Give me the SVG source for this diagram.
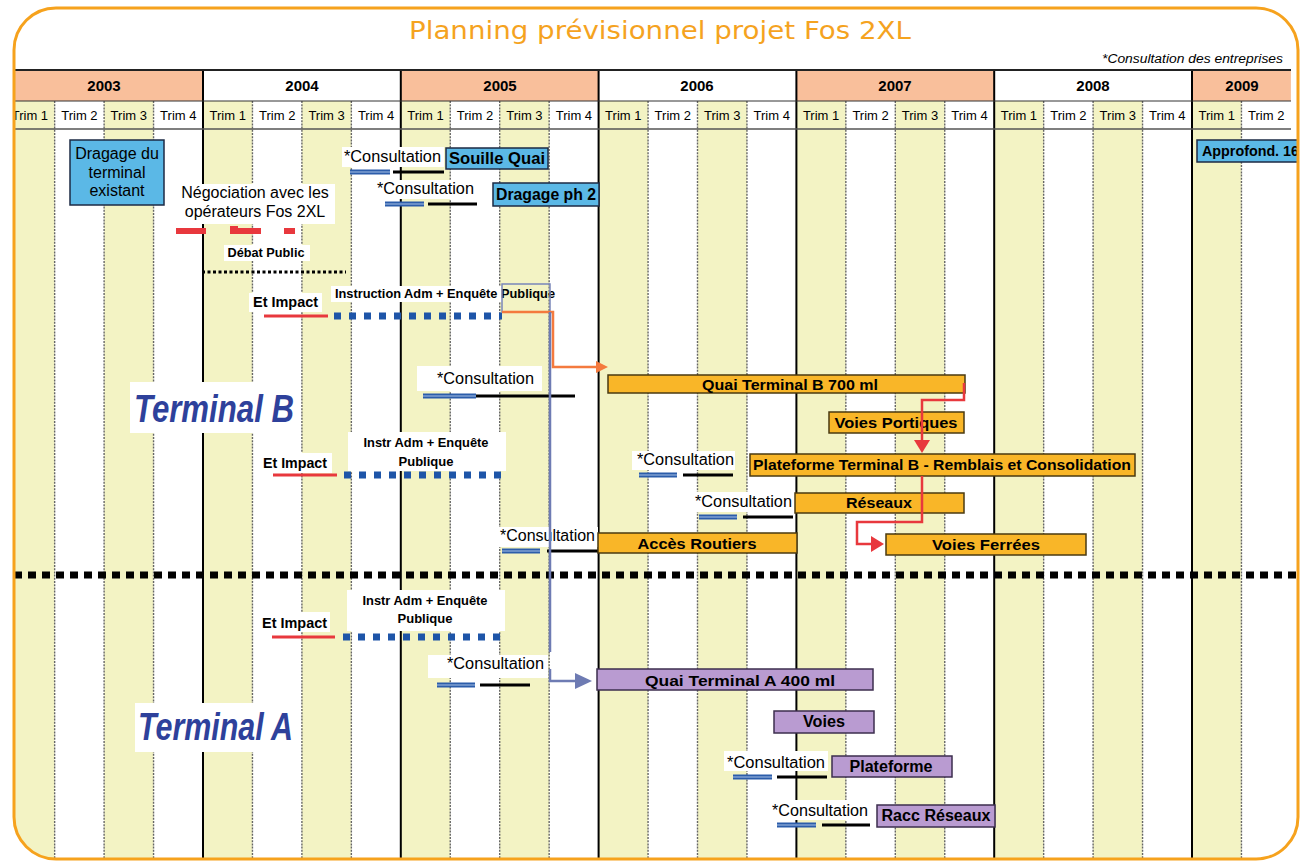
<svg xmlns="http://www.w3.org/2000/svg" width="1303" height="861" viewBox="0 0 1303 861">
<defs>
<style>
.f{font-family:"Liberation Sans",Arial,Helvetica,sans-serif;fill:#000}
.yr{font-size:15px;font-weight:bold;text-anchor:middle}
.tr{font-size:13px;text-anchor:middle}
.cons{font-size:16px}
.bt{font-weight:bold}
.mid{text-anchor:middle}
.blue{fill:#5BB8E6;stroke:#1C2A44;stroke-width:1.5}
.gold{fill:#F9B628;stroke:#4A3A10;stroke-width:1.5}
.purple{fill:#B99BD1;stroke:#3C2E4E;stroke-width:1.5}
.bg{fill:#fff}
.yel{fill:#F3F3C4}
.sal{fill:#F9BF9B}
.qline{stroke:#666;stroke-width:1.4;stroke-dasharray:2 1.2}
.yline{stroke:#000;stroke-width:2}
.cb{stroke:#2C5DAA;stroke-width:5}
.cbm{stroke:#A8C2E6;stroke-width:1}
.ck{stroke:#000;stroke-width:3}
.imp{stroke:#E8383D;stroke-width:3}
.enq{stroke:#1E55A8;stroke-width:7;stroke-dasharray:7 8}
.term{font-size:38px;font-weight:bold;font-style:italic;fill:#2E419B}
.red{stroke:#E8383D;stroke-width:2.5;fill:none}
.org{stroke:#F47A3E;stroke-width:2.5;fill:none}
.slate{stroke:#6E7BB3;stroke-width:2.5;fill:none}
</style>
<clipPath id="frameClip"><rect x="14" y="8" width="1284" height="851" rx="42"/></clipPath>
<marker id="arRed" markerUnits="userSpaceOnUse" markerWidth="14" markerHeight="16" refX="7" refY="8" orient="auto"><path d="M0,0 L13,8 L0,16 Z" fill="#E8383D"/></marker>
<marker id="arOrg" markerUnits="userSpaceOnUse" markerWidth="13" markerHeight="12" refX="6" refY="6" orient="auto"><path d="M0,0 L12,6 L0,12 Z" fill="#F47A3E"/></marker>
<marker id="arSlate" markerUnits="userSpaceOnUse" markerWidth="18" markerHeight="16" refX="11" refY="8" orient="auto"><path d="M0,0 L17,8 L0,16 Z" fill="#6E7BB3"/></marker>
</defs>
<rect width="1303" height="861" fill="#fff"/>

<g id="grid" clip-path="url(#frameClip)">
  <rect class="sal" x="5.2" y="70" width="197.8" height="31"/>
  <rect class="sal" x="400.8" y="70" width="197.8" height="31"/>
  <rect class="sal" x="796.4" y="70" width="197.8" height="31"/>
  <rect class="sal" x="1192" y="70" width="98.9" height="31"/>
  <g class="yel">
    <rect x="5.2" y="101" width="49.45" height="760"/>
    <rect x="104.1" y="101" width="49.45" height="760"/>
    <rect x="203" y="101" width="49.45" height="760"/>
    <rect x="301.9" y="101" width="49.45" height="760"/>
    <rect x="400.8" y="101" width="49.45" height="760"/>
    <rect x="499.7" y="101" width="49.45" height="760"/>
    <rect x="598.6" y="101" width="49.45" height="760"/>
    <rect x="697.5" y="101" width="49.45" height="760"/>
    <rect x="796.4" y="101" width="49.45" height="760"/>
    <rect x="895.3" y="101" width="49.45" height="760"/>
    <rect x="994.2" y="101" width="49.45" height="760"/>
    <rect x="1093.1" y="101" width="49.45" height="760"/>
    <rect x="1192" y="101" width="49.45" height="760"/>
  </g>
  <g class="qline">
    <line x1="54.65" y1="101" x2="54.65" y2="861"/>
    <line x1="104.1" y1="101" x2="104.1" y2="861"/>
    <line x1="153.55" y1="101" x2="153.55" y2="861"/>
    <line x1="252.45" y1="101" x2="252.45" y2="861"/>
    <line x1="301.9" y1="101" x2="301.9" y2="861"/>
    <line x1="351.35" y1="101" x2="351.35" y2="861"/>
    <line x1="450.25" y1="101" x2="450.25" y2="861"/>
    <line x1="499.7" y1="101" x2="499.7" y2="861"/>
    <line x1="549.15" y1="101" x2="549.15" y2="861"/>
    <line x1="648.05" y1="101" x2="648.05" y2="861"/>
    <line x1="697.5" y1="101" x2="697.5" y2="861"/>
    <line x1="746.95" y1="101" x2="746.95" y2="861"/>
    <line x1="845.85" y1="101" x2="845.85" y2="861"/>
    <line x1="895.3" y1="101" x2="895.3" y2="861"/>
    <line x1="944.75" y1="101" x2="944.75" y2="861"/>
    <line x1="1043.65" y1="101" x2="1043.65" y2="861"/>
    <line x1="1093.1" y1="101" x2="1093.1" y2="861"/>
    <line x1="1142.55" y1="101" x2="1142.55" y2="861"/>
    <line x1="1241.45" y1="101" x2="1241.45" y2="861"/>
  </g>
  <g class="yline">
    <line x1="203" y1="70" x2="203" y2="861"/>
    <line x1="400.8" y1="70" x2="400.8" y2="861"/>
    <line x1="598.6" y1="70" x2="598.6" y2="861"/>
    <line x1="796.4" y1="70" x2="796.4" y2="861"/>
    <line x1="994.2" y1="70" x2="994.2" y2="861"/>
    <line x1="1192" y1="70" x2="1192" y2="861"/>
  </g>
  <line x1="14" y1="70" x2="1291" y2="70" stroke="#222" stroke-width="2"/>
  <line x1="14" y1="101" x2="1291" y2="101" stroke="#333" stroke-width="1"/>
  <line x1="14" y1="129" x2="1291" y2="129" stroke="#555" stroke-width="1.5"/>
  <g class="f yr">
    <text x="104" y="91">2003</text>
    <text x="302" y="91">2004</text>
    <text x="500" y="91">2005</text>
    <text x="697" y="91">2006</text>
    <text x="895" y="91">2007</text>
    <text x="1093" y="91">2008</text>
    <text x="1242" y="91">2009</text>
  </g>
  <g class="f tr">
    <text x="29.9" y="120">Trim 1</text><text x="79.4" y="120">Trim 2</text><text x="128.8" y="120">Trim 3</text><text x="178.3" y="120">Trim 4</text>
    <text x="227.7" y="120">Trim 1</text><text x="277.2" y="120">Trim 2</text><text x="326.6" y="120">Trim 3</text><text x="376.1" y="120">Trim 4</text>
    <text x="425.5" y="120">Trim 1</text><text x="475" y="120">Trim 2</text><text x="524.4" y="120">Trim 3</text><text x="573.9" y="120">Trim 4</text>
    <text x="623.3" y="120">Trim 1</text><text x="672.8" y="120">Trim 2</text><text x="722.2" y="120">Trim 3</text><text x="771.7" y="120">Trim 4</text>
    <text x="821.1" y="120">Trim 1</text><text x="870.6" y="120">Trim 2</text><text x="920" y="120">Trim 3</text><text x="969.5" y="120">Trim 4</text>
    <text x="1018.9" y="120">Trim 1</text><text x="1068.4" y="120">Trim 2</text><text x="1117.8" y="120">Trim 3</text><text x="1167.3" y="120">Trim 4</text>
    <text x="1216.7" y="120">Trim 1</text><text x="1266.2" y="120">Trim 2</text>
  </g>
  <line id="separator" x1="14" y1="575" x2="1298" y2="575" stroke="#000" stroke-width="7" stroke-dasharray="8 6"/>
</g>

<text id="title" x="409" y="39" textLength="502" lengthAdjust="spacingAndGlyphs" font-family="DejaVu Sans, sans-serif" font-size="24" fill="#F5A31F">Planning prévisionnel projet Fos 2XL</text>
<text id="note" class="f" x="1102" y="63" font-size="12.5" font-style="italic" textLength="181" lengthAdjust="spacingAndGlyphs">*Consultation des entreprises</text>

<g id="dragage-existant">
  <rect class="blue" x="70" y="140" width="94" height="65"/>
  <g class="f mid" font-size="16"><text x="117" y="159">Dragage du</text><text x="117" y="178">terminal</text><text x="117" y="196">existant</text></g>
</g>
<g id="negociation">
  <rect class="bg" x="175" y="184" width="160" height="40"/>
  <g class="f mid" font-size="16"><text x="255" y="198">Négociation avec les</text><text x="255" y="217">opérateurs Fos 2XL</text></g>
  <g stroke="#E8383D" stroke-width="6">
    <line x1="176" y1="231" x2="206" y2="231"/>
    <line x1="230" y1="231" x2="261" y2="231"/>
    <line x1="230" y1="229" x2="238" y2="229"/>
    <line x1="284" y1="231" x2="295" y2="231"/>
  </g>
</g>
<g id="debat-public">
  <rect class="bg" x="224" y="245" width="86" height="16"/>
  <text class="f bt mid" x="266" y="257" font-size="13" textLength="77" lengthAdjust="spacingAndGlyphs">Débat Public</text>
  <line x1="202" y1="272" x2="346" y2="272" stroke="#000" stroke-width="3" stroke-dasharray="3 2.5"/>
</g>
<g id="instruction-1">
  <rect class="bg" x="249" y="293" width="73" height="19"/>
  <text class="f bt" x="253" y="307" font-size="15" textLength="65" lengthAdjust="spacingAndGlyphs">Et Impact</text>
  <line class="imp" x1="264" y1="316" x2="328" y2="316"/>
  <rect class="bg" x="331" y="286" width="171" height="16"/>
  <text class="f bt" x="335" y="298" font-size="12" textLength="220" lengthAdjust="spacingAndGlyphs">Instruction Adm + Enquête Publique</text>
  <line class="enq" x1="334" y1="316" x2="502" y2="316"/>
  <rect x="502" y="284" width="48" height="28" fill="none" stroke="#7A86B9" stroke-width="1.5"/>
</g>

<g id="souille-quai">
  <rect class="bg" x="342" y="147" width="102" height="20"/>
  <text class="f cons" x="344" y="162" textLength="97" lengthAdjust="spacingAndGlyphs">*Consultation</text>
  <line class="cb" x1="350" y1="172" x2="390" y2="172"/><line class="cbm" x1="350" y1="172" x2="390" y2="172"/>
  <line class="ck" x1="393" y1="172" x2="444" y2="172"/>
  <rect class="blue" x="446" y="148" width="102" height="21"/>
  <text class="f bt mid" x="497" y="164" font-size="16" textLength="96" lengthAdjust="spacingAndGlyphs">Souille Quai</text>
</g>
<g id="dragage-ph2">
  <rect class="bg" x="375" y="180" width="101" height="19"/>
  <text class="f cons" x="377" y="194" textLength="97" lengthAdjust="spacingAndGlyphs">*Consultation</text>
  <line class="cb" x1="385" y1="204" x2="424" y2="204"/><line class="cbm" x1="385" y1="204" x2="424" y2="204"/>
  <line class="ck" x1="428" y1="204" x2="477" y2="204"/>
  <rect class="blue" x="493" y="183" width="106" height="23"/>
  <text class="f bt mid" x="546" y="200" font-size="16" textLength="100" lengthAdjust="spacingAndGlyphs">Dragage ph 2</text>
</g>
<g id="approfond">
  <g clip-path="url(#frameClip)">
    <rect class="blue" x="1197" y="140" width="120" height="22"/>
    <text class="f bt" x="1202" y="156" font-size="15" textLength="97" lengthAdjust="spacingAndGlyphs">Approfond. 16</text>
  </g>
</g>

<g id="terminal-b-label">
  <rect class="bg" x="130" y="382" width="170" height="51"/>
  <text class="f term" x="134" y="422" textLength="160" lengthAdjust="spacingAndGlyphs">Terminal B</text>
</g>
<g id="quai-b">
  <rect class="bg" x="417" y="366" width="125" height="25"/>
  <text class="f cons" x="437" y="384" textLength="97" lengthAdjust="spacingAndGlyphs">*Consultation</text>
  <line class="cb" x1="423" y1="396" x2="476" y2="396"/><line class="cbm" x1="423" y1="396" x2="476" y2="396"/>
  <line class="ck" x1="476" y1="396" x2="575" y2="396"/>
  <rect class="gold" x="608" y="375" width="357" height="18"/>
  <text class="f bt mid" x="790" y="390" font-size="14" textLength="176" lengthAdjust="spacingAndGlyphs">Quai Terminal B 700 ml</text>
</g>
<g id="voies-portiques">
  <rect class="gold" x="829" y="412" width="135" height="21"/>
  <text class="f bt mid" x="896" y="428" font-size="15" textLength="123" lengthAdjust="spacingAndGlyphs">Voies Portiques</text>
</g>
<g id="instruction-b">
  <rect class="bg" x="259" y="453" width="73" height="20"/>
  <text class="f bt" x="263" y="468" font-size="15" textLength="64" lengthAdjust="spacingAndGlyphs">Et Impact</text>
  <line class="imp" x1="273" y1="475" x2="337" y2="475"/>
  <rect class="bg" x="348" y="432" width="158" height="39"/>
  <text class="f bt mid" x="426" y="447" font-size="13" textLength="125" lengthAdjust="spacingAndGlyphs">Instr Adm + Enquête</text>
  <text class="f bt mid" x="426" y="466" font-size="13" textLength="55" lengthAdjust="spacingAndGlyphs">Publique</text>
  <line class="enq" x1="344" y1="475" x2="506" y2="475"/>
</g>
<g id="plateforme-b">
  <rect class="bg" x="632" y="451" width="103" height="19"/>
  <text class="f cons" x="637" y="465" textLength="97" lengthAdjust="spacingAndGlyphs">*Consultation</text>
  <line class="cb" x1="639" y1="475" x2="677" y2="475"/><line class="cbm" x1="639" y1="475" x2="677" y2="475"/>
  <line class="ck" x1="683" y1="475" x2="733" y2="475"/>
  <rect class="gold" x="750" y="454" width="385" height="22"/>
  <text class="f bt mid" x="942" y="470" font-size="14" textLength="378" lengthAdjust="spacingAndGlyphs">Plateforme Terminal B - Remblais et Consolidation</text>
</g>
<g id="reseaux-b">
  <rect class="bg" x="693" y="492" width="101" height="20"/>
  <text class="f cons" x="695" y="507" textLength="97" lengthAdjust="spacingAndGlyphs">*Consultation</text>
  <line class="cb" x1="699" y1="517" x2="737" y2="517"/><line class="cbm" x1="699" y1="517" x2="737" y2="517"/>
  <line class="ck" x1="743" y1="517" x2="793" y2="517"/>
  <rect class="gold" x="795" y="493" width="169" height="20"/>
  <text class="f bt mid" x="879" y="508" font-size="15" textLength="66" lengthAdjust="spacingAndGlyphs">Réseaux</text>
</g>
<g id="acces-routiers">
  <rect class="bg" x="498" y="527" width="100" height="20"/>
  <text class="f cons" x="500" y="541" textLength="95" lengthAdjust="spacingAndGlyphs">*Consultation</text>
  <line class="cb" x1="502" y1="551" x2="540" y2="551"/><line class="cbm" x1="502" y1="551" x2="540" y2="551"/>
  <line class="ck" x1="547" y1="551" x2="598" y2="551"/>
  <rect class="gold" x="598" y="533" width="199" height="20"/>
  <text class="f bt mid" x="697" y="549" font-size="15" textLength="119" lengthAdjust="spacingAndGlyphs">Accès Routiers</text>
</g>
<g id="voies-ferrees">
  <rect class="gold" x="886" y="534" width="200" height="21"/>
  <text class="f bt mid" x="986" y="550" font-size="15" textLength="108" lengthAdjust="spacingAndGlyphs">Voies Ferrées</text>
</g>

<g id="instruction-a">
  <rect class="bg" x="258" y="612" width="72" height="20"/>
  <text class="f bt" x="262" y="628" font-size="15" textLength="65" lengthAdjust="spacingAndGlyphs">Et Impact</text>
  <line class="imp" x1="272" y1="637" x2="335" y2="637"/>
  <rect class="bg" x="347" y="590" width="158" height="41"/>
  <text class="f bt mid" x="425" y="605" font-size="13" textLength="125" lengthAdjust="spacingAndGlyphs">Instr Adm + Enquête</text>
  <text class="f bt mid" x="425" y="623" font-size="13" textLength="55" lengthAdjust="spacingAndGlyphs">Publique</text>
  <line class="enq" x1="343" y1="637" x2="505" y2="637"/>
</g>
<g id="terminal-a-label">
  <rect class="bg" x="135" y="703" width="162" height="49"/>
  <text class="f term" x="138" y="740" textLength="155" lengthAdjust="spacingAndGlyphs">Terminal A</text>
</g>
<g id="quai-a">
  <rect class="bg" x="428" y="655" width="120" height="23"/>
  <text class="f cons" x="447" y="669" textLength="97" lengthAdjust="spacingAndGlyphs">*Consultation</text>
  <line class="cb" x1="437" y1="685" x2="475" y2="685"/><line class="cbm" x1="437" y1="685" x2="475" y2="685"/>
  <line class="ck" x1="480" y1="685" x2="530" y2="685"/>
  <rect class="purple" x="597" y="669" width="276" height="21"/>
  <text class="f bt mid" x="740" y="686" font-size="15" textLength="190" lengthAdjust="spacingAndGlyphs">Quai Terminal A 400 ml</text>
</g>
<g id="voies-a">
  <rect class="purple" x="774" y="711" width="100" height="22"/>
  <text class="f bt mid" x="824" y="727" font-size="16" textLength="42" lengthAdjust="spacingAndGlyphs">Voies</text>
</g>
<g id="plateforme-a">
  <rect class="bg" x="724" y="751" width="104" height="20"/>
  <text class="f cons" x="727" y="768" textLength="98" lengthAdjust="spacingAndGlyphs">*Consultation</text>
  <line class="cb" x1="733" y1="777" x2="772" y2="777"/><line class="cbm" x1="733" y1="777" x2="772" y2="777"/>
  <line class="ck" x1="777" y1="777" x2="827" y2="777"/>
  <rect class="purple" x="832" y="756" width="120" height="21"/>
  <text class="f bt mid" x="891" y="772" font-size="16" textLength="83" lengthAdjust="spacingAndGlyphs">Plateforme</text>
</g>
<g id="racc-reseaux">
  <rect class="bg" x="770" y="800" width="100" height="20"/>
  <text class="f cons" x="772" y="816" textLength="96" lengthAdjust="spacingAndGlyphs">*Consultation</text>
  <line class="cb" x1="777" y1="825" x2="816" y2="825"/><line class="cbm" x1="777" y1="825" x2="816" y2="825"/>
  <line class="ck" x1="822" y1="825" x2="870" y2="825"/>
  <rect class="purple" x="877" y="805" width="118" height="22"/>
  <text class="f bt mid" x="936" y="821" font-size="16" textLength="109" lengthAdjust="spacingAndGlyphs">Racc Réseaux</text>
</g>

<g id="connectors">
  <path class="org" d="M502,312 H553 V367 H602" marker-end="url(#arOrg)"/>
  <path class="slate" d="M550,312 V652"/>
  <path class="slate" d="M550,669 V681 H586" marker-end="url(#arSlate)"/>
  <path class="red" d="M964,383 V400 H922 V447" marker-end="url(#arRed)"/>
  <path class="red" d="M922,476 V522 H857 V544 H878" marker-end="url(#arRed)"/>
</g>

<rect id="frame" x="14" y="8" width="1284" height="851" rx="42" fill="none" stroke="#F6A21D" stroke-width="3"/>
</svg>
